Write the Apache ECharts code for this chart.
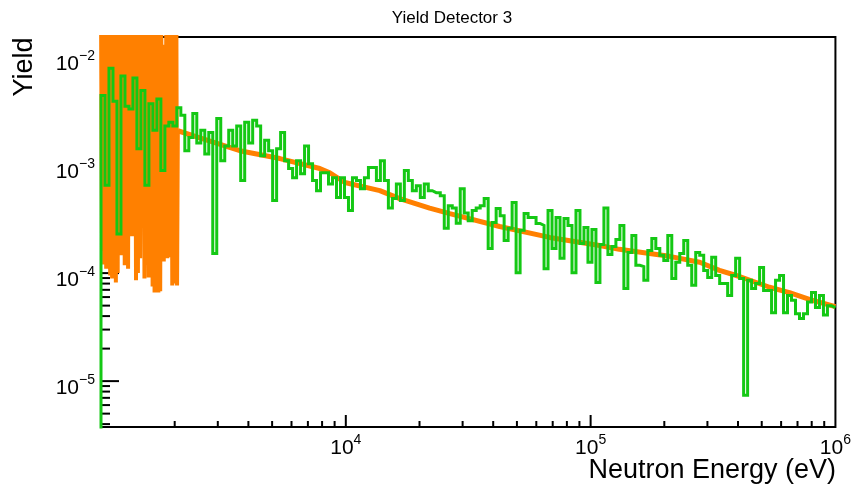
<!DOCTYPE html>
<html><head><meta charset="utf-8">
<script src="https://cdn.jsdelivr.net/npm/echarts/dist/echarts.min.js"></script>
<style>html,body{margin:0;padding:0;background:#fff}#c{width:854px;height:491px}</style>
</head><body><div id="c"></div>
<script>
// ---- data ----
const xBinLo = 1000, xBinHi = 1e6;   // histogram range (eV), log-uniform bins
const greenYield = [4.4e-3,6.5e-4,7.9e-3,3.9e-3,2.3e-4,6.7e-3,3.5e-3,3.3e-3,6.4e-3,1.42e-3,
 4.9e-3,6.5e-4,3.7e-3,2.1e-3,4.1e-3,8.9e-4,2.3e-3,2.5e-3,2.3e-3,3.4e-3,
 2.9e-3,1.36e-3,1.8e-3,3.0e-3,1.6e-3,2.1e-3,1.27e-3,2.0e-3,1.52e-4,2.7e-3,
 1.1e-3,1.5e-3,2.1e-3,1.5e-3,2.3e-3,7.2e-4,2.5e-3,1.6e-3,2.6e-3,2.3e-3,
 1.22e-3,1.7e-3,1.36e-3,4.7e-4,1.42e-3,2.0e-3,1.1e-3,9.3e-4,7.65e-4,1.1e-3,
 8.3e-4,1.5e-3,1.03e-3,7.2e-4,5.8e-4,8.5e-4,8.5e-4,6.7e-4,7.65e-4,5.0e-4,
 7.65e-4,5.0e-4,3.8e-4,7.65e-4,7.2e-4,6.05e-4,7.65e-4,9.5e-4,9.5e-4,7.2e-4,
 1.1e-3,7.2e-4,4.0e-4,4.9e-4,6.7e-4,4.7e-4,8.9e-4,7.2e-4,5.8e-4,6.45e-4,
 5.0e-4,6.7e-4,5.8e-4,5.56e-4,5.56e-4,5.2e-4,2.6e-4,4.2e-4,4.0e-4,2.9e-4,
 6.05e-4,3.6e-4,3.06e-4,3.8e-4,4.0e-4,4.2e-4,4.9e-4,1.69e-4,2.94e-4,3.96e-4,
 3.4e-4,2.0e-4,2.6e-4,4.5e-4,1.01e-4,2.5e-4,3.56e-4,3.27e-4,3.27e-4,2.88e-4,
 2.76e-4,1.1e-4,3.8e-4,1.69e-4,3.27e-4,1.37e-4,3.2e-4,2.76e-4,1.01e-4,3.8e-4,
 1.88e-4,2.64e-4,1.26e-4,2.53e-4,8.2e-5,1.84e-4,4.0e-4,1.49e-4,1.76e-4,2.05e-4,
 2.76e-4,7.2e-5,1.55e-4,2.23e-4,1.18e-4,1.15e-4,8.6e-5,1.62e-4,2.09e-4,1.69e-4,
 1.46e-4,1.31e-4,2.23e-4,8.9e-5,1.26e-4,1.52e-4,2.0e-4,1.18e-4,7.7e-5,1.55e-4,
 1.46e-4,1.06e-4,9.1e-5,1.4e-4,9.5e-5,8.0e-5,8.0e-5,6.2e-5,9.5e-5,1.37e-4,
 8.9e-5,7.4e-6,8.6e-5,7.2e-5,8.0e-5,1.13e-4,6.9e-5,6.9e-5,4.3e-5,8.6e-5,
 9.5e-5,4.3e-5,6.2e-5,5.6e-5,4.2e-5,3.8e-5,4.2e-5,5.4e-5,6.6e-5,4.8e-5,
 6.2e-5,4.1e-5,5.0e-5,4.8e-5];

const orangeOscE = [1000,1010,1020,1030,1040,1050,1060,1070,1080,1090,
 1100,1110,1120,1130,1140,1150,1160,1170,1180,1190,
 1200,1210,1220,1230,1240,1250,1260,1270,1280,1290,
 1300,1310,1320,1330,1340,1350,1360,1370,1380,1390,
 1400,1415,1430,1445,1460,1475,1490,1505,1520,1535,
 1550,1565,1580,1595,1610,1625,1640,1655,1670,1685,
 1700,1715,1730,1745,1760,1775,1790,1805,1820,1835,
 1850,1865,1880,1895,1910,1925,1940,1955,1970,1985,
 2000,2015,2030,2045];
const orangeOscY = [0.03,1.6e-4,0.05,1.2e-4,0.02,1.1e-4,0.04,3.0e-4,0.03,9.5e-5,
 0.06,8.9e-5,0.025,5.0e-4,0.04,8.2e-5,0.03,1.0e-4,0.05,2.5e-4,
 0.02,1.46e-4,0.035,6.0e-4,0.04,1.18e-4,0.03,1.3e-4,0.05,1.1e-4,
 0.025,4.0e-4,0.04,2.2e-4,0.03,2.2e-4,0.045,3.5e-4,0.02,8.6e-5,
 0.035,1.0e-4,0.03,1.37e-4,0.05,3.0e-4,0.04,8.9e-5,0.02,1.2e-4,
 0.03,9.1e-5,0.04,2.0e-4,0.03,7.5e-5,0.05,6.6e-5,0.03,1.5e-4,
 0.03,6.6e-5,0.04,6.8e-5,0.04,4.0e-4,0.012,1.28e-4,0.013,2.0e-4,
 0.05,1.37e-4,0.03,1.4e-4,0.04,3.0e-4,0.02,7.7e-5,0.035,1.5e-4,
 0.03,8.0e-5,0.05,7.7e-5];

const orangeSmoothE = [2060,2535,3690,5380,7830,8600,9910,13770,16600,22000,26600,42500,
 68000,108900,131000,174000,210000,279000,336000,406000,538000,649000,783000,1000000];
const orangeSmoothY = [2.08e-3,1.79e-3,1.36e-3,1.15e-3,9.3e-4,8.5e-4,6.9e-4,5.8e-4,4.9e-4,4.0e-4,3.56e-4,2.7e-4,
 2.14e-4,1.8e-4,1.66e-4,1.52e-4,1.43e-4,1.26e-4,1.06e-4,9.3e-5,7.4e-5,6.6e-5,5.7e-5,4.9e-5];

const xMajorTicks = [1e4, 1e5];
const xMinorTicks = [2e3,3e3,4e3,5e3,6e3,7e3,8e3,9e3,2e4,3e4,4e4,5e4,6e4,7e4,8e4,9e4,
 2e5,3e5,4e5,5e5,6e5,7e5,8e5,9e5];
const yMajorTicks = [1e-5, 1e-4, 1e-3, 1e-2];
const yMinorTicks = [4e-6,5e-6,6e-6,7e-6,8e-6,9e-6,2e-5,3e-5,4e-5,5e-5,6e-5,7e-5,8e-5,9e-5,
 2e-4,3e-4,4e-4,5e-4,6e-4,7e-4,8e-4,9e-4,2e-3,3e-3,4e-3,5e-3,6e-3,7e-3,8e-3,9e-3];

const titleText = 'Yield Detector 3';
const xTitle = 'Neutron Energy (eV)';
const yTitle = 'Yield';

// ---- build series data ----
const nBins = greenYield.length;
const edges = [];
for (let i = 0; i <= nBins; i++) edges.push(xBinLo * Math.pow(xBinHi / xBinLo, i / nBins));
const greenPts = [[edges[0], 1e-9]];
for (let i = 0; i < nBins; i++) { greenPts.push([edges[i], greenYield[i]]); greenPts.push([edges[i + 1], greenYield[i]]); }
const oscPts = orangeOscE.map((e, i) => [e, orangeOscY[i]]);
oscPts.push([orangeSmoothE[0], orangeSmoothY[0]]);
const smoothPts = orangeSmoothE.map((e, i) => [e, orangeSmoothY[i]]);

const FONT = 'Liberation Sans';
function supLabel(v, skip) {
  const e = Math.log10(v), r = Math.round(e);
  if (Math.abs(e - r) > 1e-6 || r === skip) return '';
  return '{b|10}{s|' + (r < 0 ? '\u2212' + (-r) : r) + '}';
}
const rich = {
  b: { fontSize: 21, fontFamily: FONT, color: '#000', lineHeight: 26, verticalAlign: 'bottom' },
  s: { fontSize: 14, fontFamily: FONT, color: '#000', lineHeight: 14, verticalAlign: 'top' }
};

function xTick(len) {
  return (params, api) => {
    const cs = params.coordSys;
    const x = api.coord([api.value(0), 1e-3])[0];
    const yb = cs.y + cs.height;
    return { type: 'line', shape: { x1: x, y1: yb, x2: x, y2: yb - len }, style: { stroke: '#000', lineWidth: 2 } };
  };
}
function yTick(len) {
  return (params, api) => {
    const cs = params.coordSys;
    const y = api.coord([1e4, api.value(1)])[1];
    return { type: 'line', shape: { x1: cs.x, y1: y, x2: cs.x + len, y2: y }, style: { stroke: '#000', lineWidth: 2 } };
  };
}

const chart = echarts.init(document.getElementById('c'), null, { renderer: 'canvas' });
chart.setOption({
  animation: false,
  backgroundColor: '#fff',
  grid: { left: 101, right: 18, top: 37, bottom: 64, show: true, borderColor: '#000', borderWidth: 2, backgroundColor: 'transparent' },
  xAxis: {
    type: 'log', logBase: 10, min: xBinLo, max: xBinHi,
    axisLine: { show: false }, axisTick: { show: false }, splitLine: { show: false },
    axisLabel: { margin: 6, formatter: v => supLabel(v, 3), rich: rich }
  },
  yAxis: {
    type: 'log', logBase: 10, min: 3.76e-6, max: 0.01535,
    axisLine: { show: false }, axisTick: { show: false }, splitLine: { show: false },
    axisLabel: { margin: 6, padding: [10, 0, 0, 0], formatter: v => supLabel(v, null), rich: rich }
  },
  series: [
    { type: 'custom', silent: true, renderItem: xTick(12), data: xMajorTicks.map(v => [v, 1e-3]) },
    { type: 'custom', silent: true, renderItem: xTick(6), data: xMinorTicks.map(v => [v, 1e-3]) },
    { type: 'custom', silent: true, renderItem: yTick(18), data: yMajorTicks.map(v => [1e4, v]) },
    { type: 'custom', silent: true, renderItem: yTick(9), data: yMinorTicks.map(v => [1e4, v]) },
    { type: 'line', data: oscPts, showSymbol: false, clip: true, lineStyle: { color: '#ff8000', width: 4 } },
    { type: 'line', data: smoothPts, showSymbol: false, clip: true, lineStyle: { color: '#ff8000', width: 5 } },
    { type: 'line', data: greenPts, showSymbol: false, clip: true, lineStyle: { color: '#14c814', width: 3, join: 'miter' } }
  ],
  graphic: [
    { type: 'text', x: 452, y: 18, style: { text: titleText, font: '17px "Liberation Sans"', fill: '#000', textAlign: 'center', textVerticalAlign: 'middle' } },
    { type: 'text', x: 836, y: 471, style: { text: xTitle, font: '27px "Liberation Sans"', fill: '#000', textAlign: 'right', textVerticalAlign: 'middle' } },
    { type: 'text', x: 25, y: 67, rotation: Math.PI / 2, style: { text: yTitle, font: '27px "Liberation Sans"', fill: '#000', textAlign: 'center', textVerticalAlign: 'middle' } }
  ]
});
</script>
</body></html>
